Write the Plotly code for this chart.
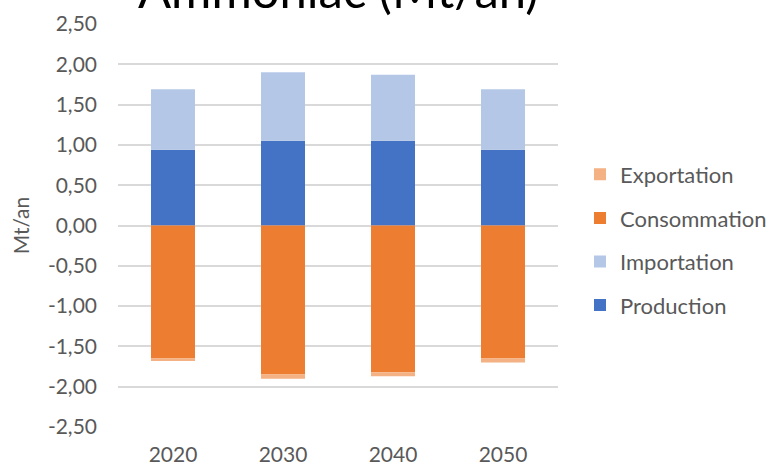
import plotly.graph_objects as go

years = ["2020", "2030", "2040", "2050"]
production = [0.94, 1.05, 1.05, 0.94]
importation = [0.75, 0.85, 0.82, 0.75]
consommation = [-1.65, -1.85, -1.82, -1.65]
exportation = [-0.03, -0.05, -0.05, -0.05]

y_ticks = [2.5, 2.0, 1.5, 1.0, 0.5, 0.0, -0.5, -1.0, -1.5, -2.0, -2.5]
y_tick_labels = [f"{v:.2f}".replace(".", ",") for v in y_ticks]

FONT = "Lato"
GRAY = "#595959"

fig = go.Figure()
series = [
    ("Production", production, "#4472C4", 4),
    ("Importation", importation, "#B4C7E7", 3),
    ("Consommation", consommation, "#ED7D31", 2),
    ("Exportation", exportation, "#F4B183", 1),
]
for name, vals, color, rank in series:
    fig.add_trace(go.Bar(
        x=years, y=vals, name=name, marker_color=color,
        marker_line_width=0, legendgroup=name, legendrank=rank,
    ))

fig.update_layout(
    width=772, height=468,
    barmode="relative",
    bargap=0.6,
    plot_bgcolor="white", paper_bgcolor="white",
    margin=dict(l=118, r=214, t=24, b=41, autoexpand=False),
    font=dict(family=FONT, size=21, color=GRAY),
    showlegend=True,
    legend=dict(
        traceorder="grouped",
        tracegroupgap=12,
        x=1.05, xanchor="left", y=0.464, yanchor="middle",
        font=dict(family=FONT, size=22, color=GRAY),
        itemwidth=30,
    ),
    annotations=[dict(
        text="Ammoniac (Mt/an)", xref="paper", yref="paper",
        x=0.5, y=1.0, xanchor="center", yanchor="bottom", yshift=4,
        showarrow=False, font=dict(family=FONT, size=49, color="#000000"),
    )],
)
fig.update_xaxes(
    showgrid=False, showline=False, ticks="", automargin=False,
    tickfont=dict(family=FONT, size=21, color=GRAY),
    ticklabelstandoff=13,
)
fig.update_yaxes(
    range=[-2.5, 2.5], automargin=False,
    tickvals=y_ticks, ticktext=y_tick_labels,
    showgrid=True, gridcolor="#D9D9D9", gridwidth=1.5,
    zeroline=True, zerolinecolor="#D9D9D9", zerolinewidth=1.5,
    showline=False, ticks="",
    tickfont=dict(family=FONT, size=21, color=GRAY),
    ticklabelstandoff=20,
    title=dict(text="Mt/an", font=dict(family=FONT, size=21, color=GRAY), standoff=12),
)

fig.write_html("out.html", config={"displayModeBar": False},
               post_script="document.body.style.margin='0';")
